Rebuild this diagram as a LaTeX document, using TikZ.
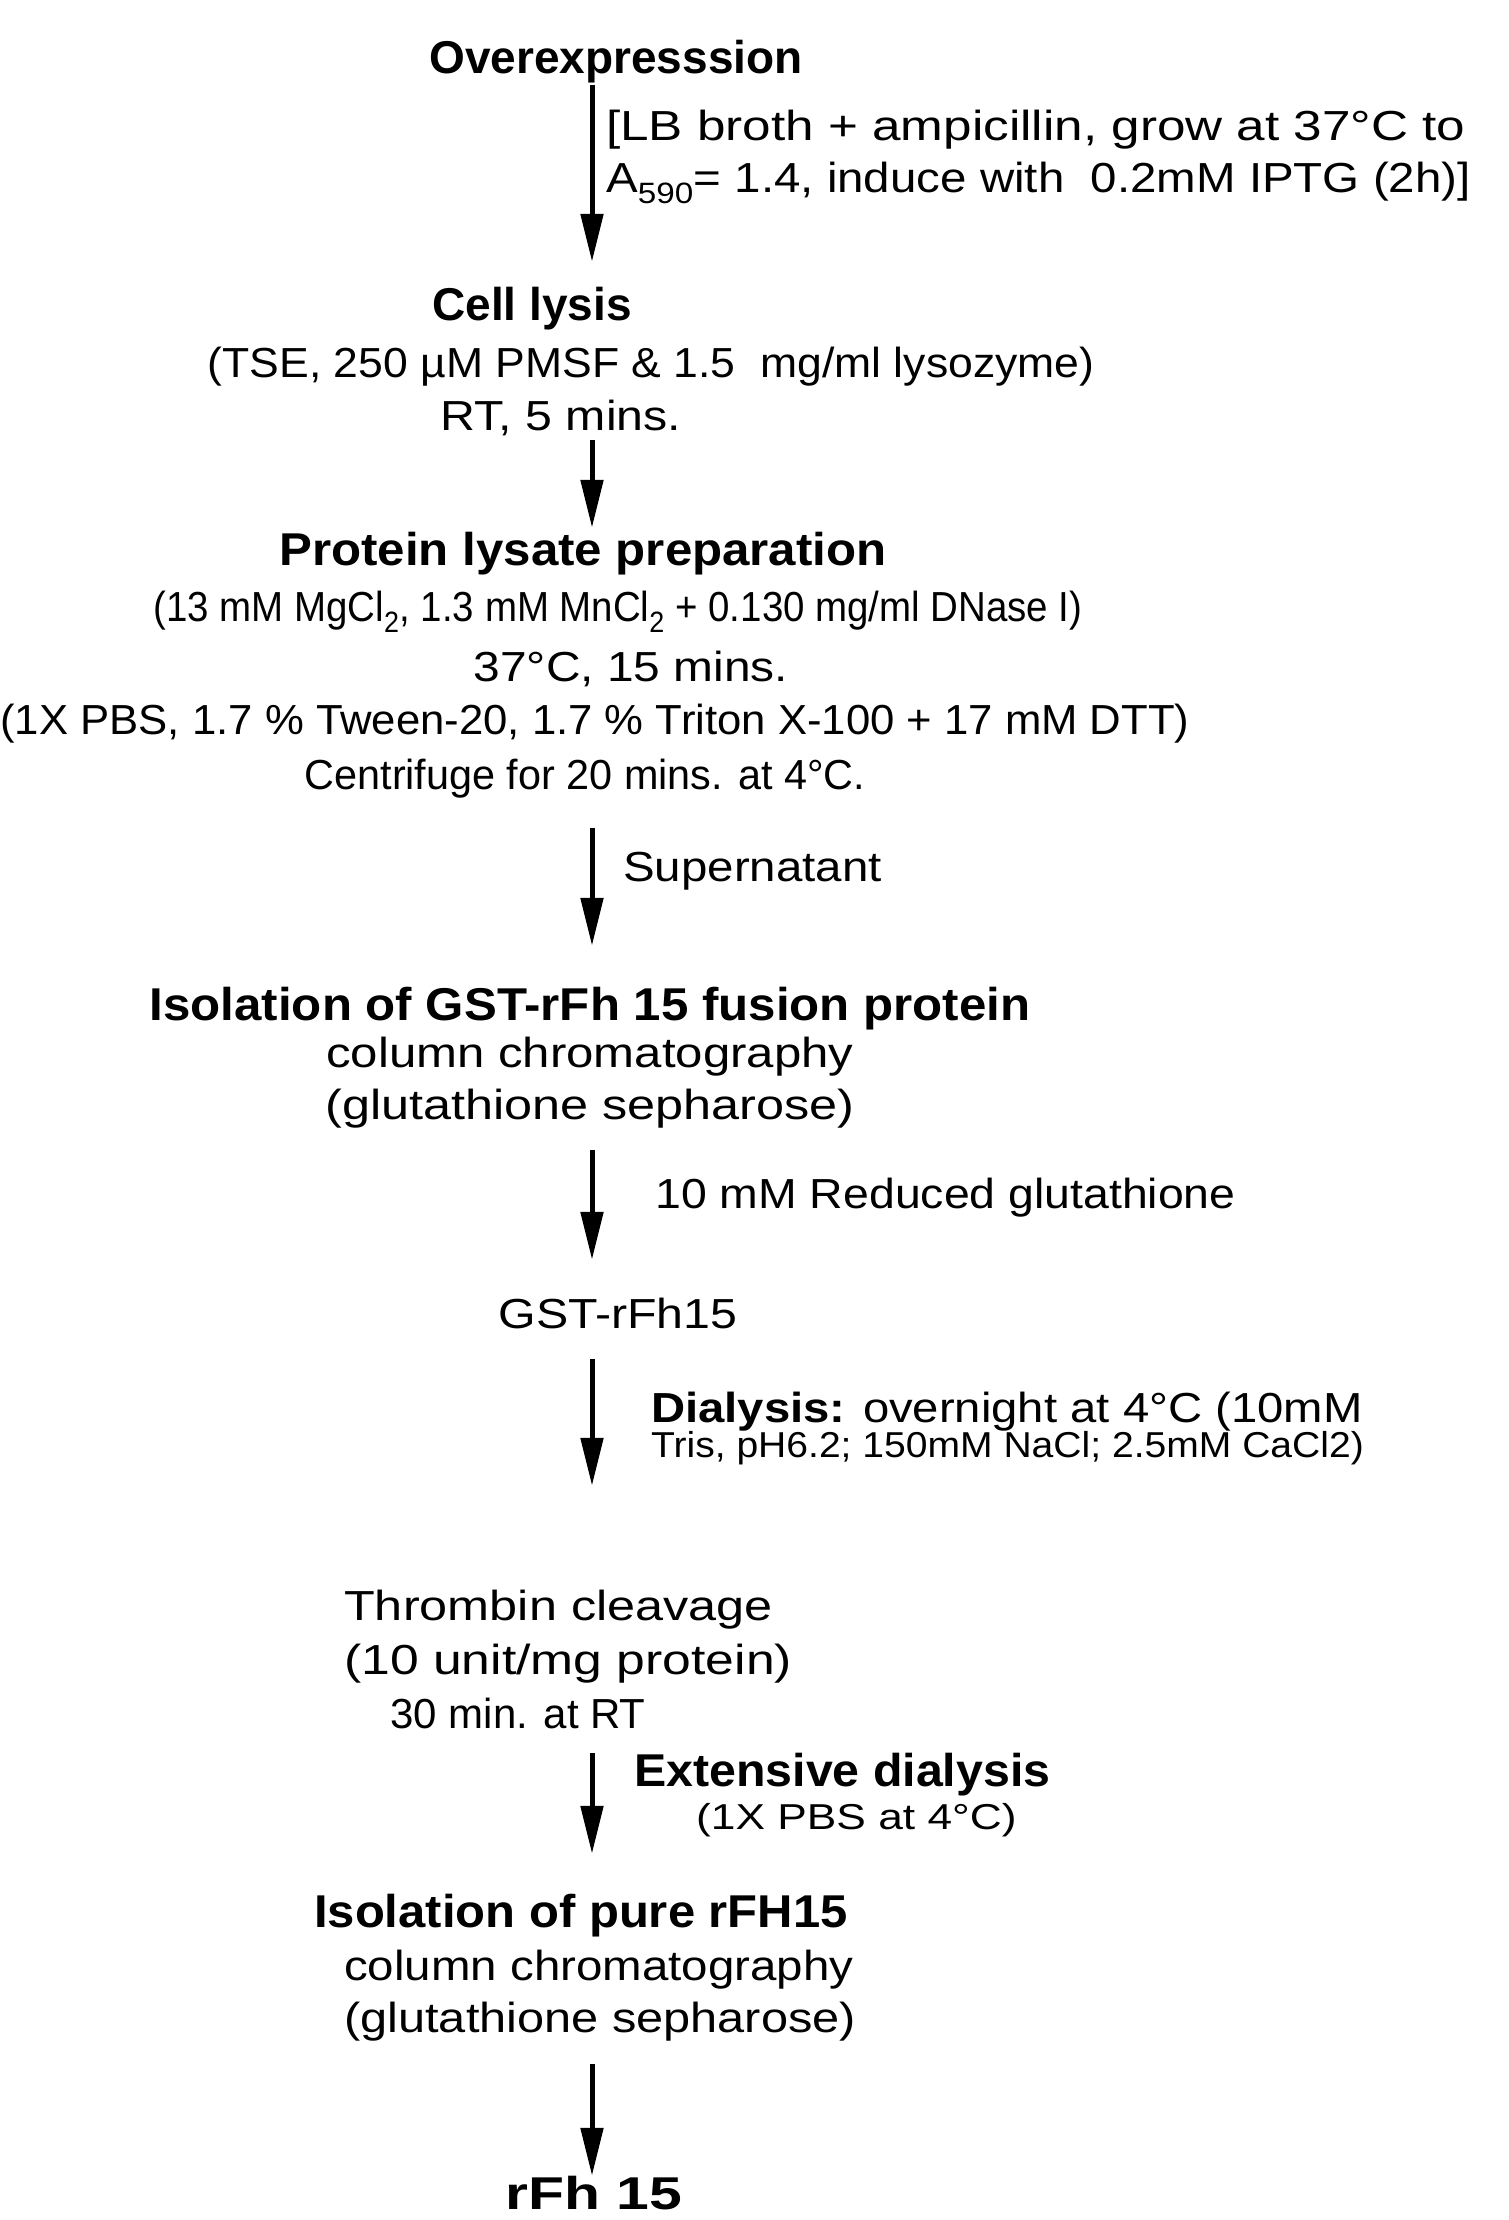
\documentclass[tikz,border=0pt]{standalone}
\usepackage{fontspec}
\setmainfont{Liberation Sans}
\usetikzlibrary{arrows.meta}
\newcommand\hs[2]{\scalebox{#1}[1]{#2}}
\begin{document}
\begin{tikzpicture}[x=1pt,y=-1pt,
  txt/.style={inner sep=0pt, text height=34pt, text depth=4pt, font=\fontsize{42}{50}\selectfont},
  hd/.style={inner sep=0pt, text height=37pt, text depth=5pt, font=\fontsize{46}{55}\selectfont\bfseries},
  sm/.style={inner sep=0pt, text height=30pt, text depth=4pt, font=\fontsize{36}{43}\selectfont},
  flow/.style={line width=5pt, -{Triangle[length=48pt,width=22pt]}},
]
\useasboundingbox (0,0) rectangle (1509,2220);
\coordinate (ax) at (592,0);

% step 1
\node[hd] (over) at (616,57) {Overexpresssion};
\node[txt, anchor=west] (c1a) at (606,125) {\hs{1.22}{[LB broth + ampicillin, grow at 37°C to}};
\node[txt, anchor=west] (c1b) at (606,177) {\hs{1.13}{A\textsubscript{590}= 1.4, induce with\ \ 0.2mM IPTG (2h)]}};

% step 2
\node[hd] (lys) at (532,304) {Cell lysis};
\node[txt] (lys2) at (651,362) {\hs{1.06}{(TSE, 250 µM PMSF \& 1.5\ \ mg/ml lysozyme)}};
\node[txt] (lys3) at (561,415) {\hs{1.15}{RT, 5 mins.}};

% step 3
\node[hd] (prot) at (583,549) {\hs{1.07}{Protein lysate preparation}};
\node[txt] (prot2) at (618,606) {\hs{0.915}{(13 mM MgCl\textsubscript{2}, 1.3 mM MnCl\textsubscript{2} + 0.130 mg/ml DNase I)}};
\node[txt] (prot3) at (631,666) {\hs{1.14}{37°C, 15 mins.}};
\node[txt] (prot4) at (595,719) {\hs{1.04}{(1X PBS, 1.7 \% Tween-20, 1.7 \% Triton X-100 + 17 mM DTT)}};
\node[txt] (prot5) at (585,774) {\hs{0.985}{Centrifuge for 20 mins. at 4°C.}};
\node[txt, anchor=west] (sup) at (623,866) {\hs{1.13}{Supernatant}};

% step 4
\node[hd] (iso) at (590,1004) {\hs{1.07}{Isolation of GST-rFh 15 fusion protein}};
\node[txt] (iso2) at (590,1052) {\hs{1.17}{column chromatography}};
\node[txt] (iso3) at (590,1104) {\hs{1.2}{(glutathione sepharose)}};
\node[txt, anchor=west] (red) at (655,1193) {\hs{1.105}{10 mM Reduced glutathione}};

% step 5
\node[txt] (gst) at (618,1313) {\hs{1.15}{GST-rFh15}};
\node[txt, anchor=west] (dia1) at (651,1407) {\hs{1.125}{\textbf{Dialysis:} overnight at 4°C (10mM}};
\node[sm, anchor=west] (dia2) at (651,1444) {\hs{1.085}{Tris, pH6.2; 150mM NaCl; 2.5mM CaCl2)}};

% step 6
\node[txt, anchor=west] (thr) at (344,1605) {\hs{1.2}{Thrombin cleavage}};
\node[txt, anchor=west] (thr2) at (344,1659) {\hs{1.23}{(10 unit/mg protein)}};
\node[txt] (thr3) at (518,1713) {30 min. at RT};
\node[hd, anchor=west] (ext) at (634,1770) {\hs{1.05}{Extensive dialysis}};
\node[sm, anchor=west] (ext2) at (696,1816) {\hs{1.23}{(1X PBS at 4°C)}};

% step 7
\node[hd, anchor=west] (pure) at (314,1911) {\hs{1.065}{Isolation of pure rFH15}};
\node[txt, anchor=west] (pure2) at (344,1965) {\hs{1.13}{column chromatography}};
\node[txt, anchor=west] (pure3) at (344,2017) {\hs{1.16}{(glutathione sepharose)}};

% step 8
\node[hd] (rfh) at (594,2193) {\hs{1.28}{rFh 15}};

% arrows
\draw[flow, shorten <=7pt, shorten >=21pt] (over.south -| ax) -- (lys.north -| ax);
\draw[flow, shorten <=6pt, shorten >=0pt] (lys3.south -| ax) -- (prot.north -| ax);
\draw[flow, shorten <=35pt, shorten >=37pt] (prot5.south -| ax) -- (iso.north -| ax);
\draw[flow, shorten <=27pt, shorten >=34pt] (iso3.south -| ax) -- (gst.north -| ax);
\draw[flow, shorten <=27pt, shorten >=100pt] (gst.south -| ax) -- (thr.north -| ax);
\draw[flow, shorten <=21pt, shorten >=36pt] (thr3.south -| ax) -- (pure.north -| ax);
\draw[flow, shorten <=28pt, shorten >=-4pt] (pure3.south -| ax) -- (rfh.north -| ax);
\end{tikzpicture}
\end{document}
